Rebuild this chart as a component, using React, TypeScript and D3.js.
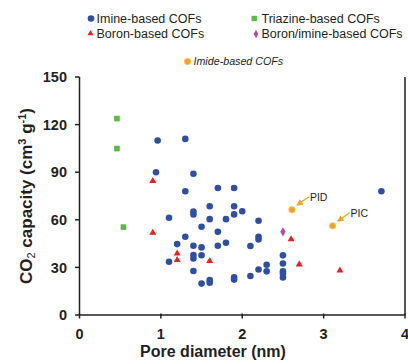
import React from 'react';
import * as d3 from 'd3';

const xTicks = [0, 1, 2, 3, 4];
const yTicks = [0, 30, 60, 90, 120, 150];

const imine: [number, number][] = [
  [0.96, 110], [1.3, 111], [0.94, 90], [1.4, 89], [1.3, 78], [1.7, 80], [1.9, 80], [3.71, 78],
  [1.1, 61.3], [1.4, 65.2], [1.4, 63.4], [1.6, 68.5], [1.9, 68.5], [1.9, 63.4], [2.0, 65.4],
  [1.6, 60.4], [1.8, 60.4], [2.2, 59.4], [1.5, 55.6], [1.7, 52.4], [1.3, 49.3], [2.2, 49.3],
  [2.2, 47.6], [1.2, 44.7], [1.4, 43.6], [1.5, 42.6], [1.7, 43.6], [1.8, 45.5], [2.1, 43.5],
  [1.4, 37.8], [1.4, 35.6], [1.5, 37.7], [1.1, 33.6], [1.4, 27.7], [1.5, 19.8], [1.6, 22],
  [1.6, 20.4], [1.9, 23.7], [1.9, 22.3], [2.1, 24.6], [2.2, 28.7], [2.3, 31.7], [2.3, 27.5],
  [2.5, 37.6], [2.5, 32.5], [2.5, 27.6], [2.5, 26.1], [2.5, 23.7],
];
const triazine: [number, number][] = [[0.46, 123.8], [0.46, 104.9], [0.54, 55.4]];
const boron: [number, number][] = [
  [0.9, 84.5], [0.9, 51.8], [1.2, 38.8], [1.2, 34.6], [1.6, 34], [2.6, 47.8], [2.7, 31.9], [3.2, 28.1],
];
const boronImine: [number, number][] = [[2.5, 52.4]];
const imideX = [2.61, 3.11];
const imideY = [66.3, 56.2];
const imideLabels = ['PID', 'PIC'];

const BLUE = '#2f4fa6';
const GREEN = '#5cba47';
const RED = '#ee1d23';
const PURPLE = '#b04ea6';
const ORANGE = '#f7a21b';
const FONT = '"Liberation Sans", Arial, sans-serif';

const triPath = d3.symbol(d3.symbolTriangle, 21)()!;
const diaPath = d3.symbol(d3.symbolDiamond, 24)()!;

export default function App() {
  const x = d3.scaleLinear().domain([0, 4]).range([79.5, 405]);
  const y = d3.scaleLinear().domain([0, 150]).range([315, 77]);
  const axisColor = '#231f20';

  const circle = (cx: number, cy: number, fill: string, key: any) => (
    <circle key={key} cx={cx} cy={cy} r={3.3} fill={fill} />
  );
  const square = (cx: number, cy: number, key: any) => (
    <rect key={key} x={cx - 2.8} y={cy - 2.8} width={5.6} height={5.6} fill={GREEN} />
  );
  const tri = (cx: number, cy: number, key: any) => (
    <path key={key} d={triPath} transform={`translate(${cx},${cy})`} fill={RED} />
  );
  const dia = (cx: number, cy: number, key: any) => (
    <path key={key} d={diaPath} transform={`translate(${cx},${cy})`} fill={PURPLE} />
  );
  const imideMark = (cx: number, cy: number, key: any) => (
    <g key={key}>
      <circle cx={cx} cy={cy} r={3.2} fill={ORANGE} stroke="#fbc56a" strokeWidth={0.8} />
    </g>
  );

  return (
    <svg width={408} height={364} style={{ position: 'absolute', left: 0, top: 0 }} fontFamily={FONT}>
      <defs>
        <marker id="ah" viewBox="0 0 10 10" refX="9" refY="5" markerWidth="5" markerHeight="5" orient="auto">
          <path d="M0,0 L10,5 L0,10 z" fill={ORANGE} />
        </marker>
      </defs>
      <rect width={408} height={364} fill="#fff" />

      {/* legend */}
      <g fontSize={12.5} fill="#231f20">
        {circle(91, 18.5, BLUE, 'l1')}
        <text x={96.5} y={22.8}>Imine-based COFs</text>
        <rect x={251.5} y={15.8} width={5.4} height={5.4} fill={GREEN} />
        <text x={261.5} y={22.8}>Triazine-based COFs</text>
        <path d={d3.symbol(d3.symbolTriangle, 16)()!} transform="translate(90.5,33.5)" fill={RED} />
        <text x={96.5} y={38}>Boron-based COFs</text>
        <path d={d3.symbol(d3.symbolDiamond, 20)()!} transform="translate(256,34)" fill={PURPLE} />
        <text x={261.5} y={38}>Boron/imine-based COFs</text>
        {imideMark(187.5, 61.5, 'l5')}
        <text x={193.5} y={64.8} fontSize={10.7} fontStyle="italic">Imide-based COFs</text>
      </g>

      {/* axes */}
      <g stroke={axisColor} strokeWidth={1.5} fill="none">
        <line x1={x(0)} x2={x(0)} y1={y(150)} y2={y(0)} />
        <line x1={x(0)} x2={x(4)} y1={y(0)} y2={y(0)} />
        <line x1={x(4)} x2={x(4)} y1={y(150)} y2={y(0)} />
        {yTicks.map((t) => (
          <line key={'yt' + t} x1={x(0) - 4.5} x2={x(0)} y1={y(t)} y2={y(t)} />
        ))}
        {xTicks.map((t) => (
          <line key={'xt' + t} x1={x(t)} x2={x(t)} y1={y(0) - 1.5} y2={y(0) + 3.5} />
        ))}
      </g>
      <g fontSize={14.5} fontWeight="bold" fill="#231f20">
        {yTicks.map((t) => (
          <text key={'yl' + t} x={67} y={y(t) + 5.2} textAnchor="end">{t}</text>
        ))}
        {xTicks.map((t) => (
          <text key={'xl' + t} x={x(t)} y={338.5} textAnchor="middle">{t}</text>
        ))}
      </g>
      <text x={213} y={357} textAnchor="middle" fontSize={16} fontWeight="bold" fill="#231f20">
        Pore diameter (nm)
      </text>
      <text transform="translate(32,196) rotate(-90)" textAnchor="middle" fontSize={17} fontWeight="bold" fill="#231f20">
        CO<tspan fontSize={11} fontWeight="normal" dy={3}>2</tspan>
        <tspan dy={-3}> capacity (cm</tspan>
        <tspan fontSize={11} dy={-6}>3</tspan>
        <tspan dy={6}> g</tspan>
        <tspan fontSize={11} dy={-6}>-1</tspan>
        <tspan dy={6}>)</tspan>
      </text>

      {/* data */}
      {imine.map(([a, b], i) => circle(x(a), y(b), BLUE, 'i' + i))}
      {triazine.map(([a, b], i) => square(x(a), y(b), 't' + i))}
      {boron.map(([a, b], i) => tri(x(a), y(b), 'b' + i))}
      {boronImine.map(([a, b], i) => dia(x(a), y(b), 'd' + i))}
      {imideX.map((a, i) => {
        const px = x(a);
        const py = y(imideY[i]);
        return (
          <g key={'m' + i}>
            {imideMark(px, py, 'mm' + i)}
            <line x1={px + 17} y1={py - 13} x2={px + 5} y2={py - 4.5} stroke={ORANGE} strokeWidth={1.3} markerEnd="url(#ah)" />
            <text x={px + 18} y={py - 9} fontSize={10.5} fill="#231f20">{imideLabels[i]}</text>
          </g>
        );
      })}
    </svg>
  );
}
